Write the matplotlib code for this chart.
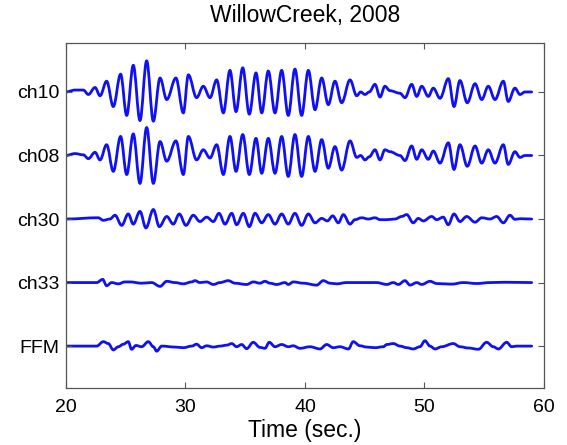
import matplotlib
matplotlib.use("Agg")
import matplotlib.pyplot as plt
from matplotlib.path import Path
from matplotlib.patches import PathPatch

plt.rcParams['font.family'] = ['Liberation Sans', 'DejaVu Sans']

channels = ["FFM", "ch33", "ch30", "ch08", "ch10"]
x_ticks = [20, 30, 40, 50, 60]
title = "WillowCreek, 2008"
x_label = "Time (sec.)"

# extrema of each trace (time in s, relative amplitude)
t_ch10 = [20.0, 20.75, 21.45, 21.87, 22.43, 22.85, 23.4, 23.96, 24.57, 25.08,
          25.63, 26.19, 26.75, 27.31, 27.87, 28.43, 29.2, 29.82, 30.24, 30.93,
          31.49, 32.05, 32.61, 33.17, 33.72, 34.23, 34.79, 35.34, 35.9, 36.38,
          36.93, 37.49, 38.05, 38.6, 39.16, 39.72, 40.28, 40.84, 41.4, 41.95,
          42.51, 43.07, 43.77, 44.33, 44.66, 45.02, 45.38, 45.86, 46.28, 46.69,
          47.11, 47.95, 48.37, 48.93, 49.35, 49.77, 50.32, 50.74, 51.3, 52.0,
          52.47, 52.97, 53.58, 54.23, 54.79, 55.34, 55.9, 56.6, 57.01, 57.57,
          57.99, 58.41, 58.97]
v_ch10 = [0, 0.03, 0.03, -0.04, 0.07, -0.06, 0.17, -0.23, 0.28, -0.37,
          0.42, -0.45, 0.49, -0.46, 0.22, -0.12, 0.22, -0.33, 0.27, -0.09,
          0.09, -0.09, 0.19, -0.33, 0.34, -0.31, 0.38, -0.35, 0.30, -0.33,
          0.33, -0.33, 0.34, -0.37, 0.36, -0.37, 0.34, -0.28, 0.22, -0.20,
          0.17, -0.17, 0.19, -0.06, 0.0, -0.04, 0.0, 0.12, -0.08, 0.09,
          0.02, -0.02, -0.09, 0.12, -0.07, 0.09, -0.07, 0.06, -0.10, 0.21,
          -0.23, 0.18, -0.17, 0.13, -0.12, 0.09, -0.12, 0.17, -0.15, 0.06,
          -0.04, 0, 0]

t_ch08 = list(t_ch10)
v_ch08 = [0, 0.03, 0.01, -0.05, 0.05, -0.07, 0.17, -0.25, 0.30, -0.30,
          0.34, -0.44, 0.44, -0.44, 0.22, -0.09, 0.23, -0.30, 0.30, -0.07,
          0.09, -0.04, 0.17, -0.30, 0.30, -0.25, 0.33, -0.30, 0.27, -0.28,
          0.27, -0.28, 0.30, -0.33, 0.33, -0.33, 0.30, -0.25, 0.25, -0.20,
          0.14, -0.23, 0.23, -0.03, 0.0, -0.07, -0.02, 0.09, -0.07, 0.09,
          0.06, 0.0, -0.08, 0.15, -0.06, 0.09, -0.06, 0.07, -0.12, 0.20,
          -0.22, 0.17, -0.17, 0.15, -0.12, 0.09, -0.12, 0.17, -0.14, 0.06,
          -0.03, 0, 0]

t_ch30 = [20.0, 22.7, 23.12, 23.68, 24.1, 24.66, 25.21, 25.63, 26.19, 26.69,
          27.31, 27.81, 28.43, 28.98, 29.48, 30.04, 30.65, 31.21, 31.77, 32.33,
          32.8, 33.31, 33.87, 34.28, 34.84, 35.34, 35.82, 36.38, 36.93, 37.49,
          38.05, 38.6, 39.16, 39.72, 40.28, 40.84, 41.4, 41.87, 42.32, 42.79,
          43.21, 43.77, 44.18, 44.74, 45.3, 45.86, 46.28, 46.84, 47.53, 48.09,
          48.51, 49.06, 49.48, 49.9, 50.6, 51.02, 51.57, 51.99, 52.47, 52.97,
          53.53, 54.23, 54.79, 55.48, 56.04, 56.6, 57.15, 57.57, 57.99, 58.97]
v_ch30 = [0, 0.02, -0.02, 0.0, 0.06, -0.10, 0.08, -0.08, 0.12, -0.14,
          0.15, -0.12, 0.04, -0.08, 0.08, -0.10, 0.06, -0.04, 0.03, -0.04,
          0.09, -0.08, 0.09, -0.09, 0.09, -0.12, 0.09, -0.06, 0.07, -0.08,
          0.08, -0.08, 0.09, -0.10, 0.08, -0.06, 0.01, -0.03, 0.05, -0.06,
          0.07, -0.08, -0.01, 0.02, 0.0, 0.02, -0.01, -0.01, 0.0, 0.04,
          0.07, -0.06, 0.01, -0.03, 0.04, -0.01, 0.03, -0.09, 0.08, -0.04,
          0.04, -0.05, 0.02, 0.0, 0.04, -0.06, 0.06, -0.005, 0.005, 0]

t_ch33 = [20.0, 22.57, 23.07, 23.4, 23.82, 24.38, 24.94, 25.36, 26.33, 27.17,
          27.87, 28.43, 29.12, 29.82, 30.52, 30.79, 31.21, 31.77, 32.33, 32.89,
          33.58, 34.14, 35.12, 35.67, 36.23, 36.65, 37.07, 37.63, 38.33, 38.6,
          39.02, 39.86, 40.98, 41.53, 42.09, 42.65, 43.49, 44.6, 46.0, 46.84,
          47.39, 47.81, 48.37, 48.79, 49.35, 49.77, 50.46, 51.02, 52.27, 53.25,
          54.37, 55.48, 56.74, 58.97]
v_ch33 = [0, 0, 0.05, -0.05, 0, -0.02, 0.01, 0.01, -0.01, 0,
          -0.06, 0.02, 0, -0.02, 0.01, 0.03, 0.0, 0.01, -0.03, 0,
          0.03, -0.01, -0.03, 0.01, -0.01, 0.02, -0.01, -0.03, 0, -0.03,
          0.01, -0.01, -0.04, 0.03, -0.01, -0.02, 0, 0, 0, -0.03,
          0, -0.03, 0.03, -0.04, 0, -0.03, 0.02, -0.015, -0.025, 0,
          -0.015, 0, 0.005, 0]

t_ffm = [20.0, 22.57, 23.12, 23.54, 23.96, 24.38, 24.8, 25.21, 25.49, 25.86,
         26.33, 26.89, 27.31, 27.59, 28.01, 29.12, 29.82, 30.52, 30.93, 31.35,
         31.77, 32.33, 32.89, 33.45, 33.87, 34.28, 34.7, 35.12, 35.67, 36.23,
         36.65, 37.01, 37.49, 38.05, 38.6, 39.02, 39.58, 40.42, 41.26, 41.81,
         42.37, 42.93, 43.63, 44.04, 44.6, 45.16, 45.86, 46.56, 46.84, 47.39,
         47.95, 48.51, 49.06, 49.62, 50.04, 50.46, 50.88, 51.44, 52.41, 52.97,
         53.67, 54.51, 55.2, 55.76, 56.18, 56.88, 57.29, 57.71, 58.97]
v_ffm = [0, 0, 0.07, 0.04, -0.06, -0.01, 0.03, 0.07, -0.05, 0.01,
         -0.01, 0.07, -0.01, -0.08, 0, -0.015, -0.025, 0, 0.03, -0.025,
         0.005, -0.015, 0, 0.015, 0.04, -0.01, 0.025, -0.04, 0.06, -0.02,
         -0.035, 0.06, -0.01, 0.025, -0.01, 0.005, -0.035, -0.01, -0.045, 0.025,
         -0.025, -0.01, -0.045, 0.07, 0.005, -0.015, -0.025, -0.01, 0.025, 0.04,
         0, -0.025, -0.045, -0.01, 0.085, 0, -0.045, -0.01, 0.04, -0.01,
         -0.03, -0.05, 0.06, -0.01, -0.045, 0.06, -0.01, 0, 0]

traces = [(t_ffm, v_ffm), (t_ch33, v_ch33), (t_ch30, v_ch30),
          (t_ch08, v_ch08), (t_ch10, v_ch10)]

fig = plt.figure(figsize=(5.67, 4.45), dpi=100)
ax = fig.add_axes([0.1164, 0.128, 0.843, 0.7753])

k = 0.36
for i, (ts, vs) in enumerate(traces):
    base = i + 1
    verts = [(ts[0], base + vs[0])]
    codes = [Path.MOVETO]
    for j in range(1, len(ts)):
        t0, v0 = ts[j - 1], base + vs[j - 1]
        t1, v1 = ts[j], base + vs[j]
        dt = t1 - t0
        verts += [(t0 + k * dt, v0), (t1 - k * dt, v1), (t1, v1)]
        codes += [Path.CURVE4] * 3
    ax.add_patch(PathPatch(Path(verts, codes), fill=False,
                           edgecolor='#1010f5', lw=2.0, capstyle='round',
                           joinstyle='round'))

ax.set_xlim(20, 60)
ax.set_ylim(0.34, 5.77)
ax.set_xticks(x_ticks)
ax.set_yticks(range(1, len(channels) + 1))
ax.set_yticklabels(channels)
ax.tick_params(direction='in', length=4, width=0.8, top=True, right=True,
               labelsize=14, colors='#555555', labelcolor='black')
ax.tick_params(axis='x', pad=8)
ax.tick_params(axis='y', pad=5)
for s in ax.spines.values():
    s.set_color('#555555')
    s.set_linewidth(0.9)
ax.set_title(title, fontsize=16.5, pad=15)
ax.set_xlabel(x_label, fontsize=16.5, labelpad=2)

fig.savefig("out.png", dpi=100)
